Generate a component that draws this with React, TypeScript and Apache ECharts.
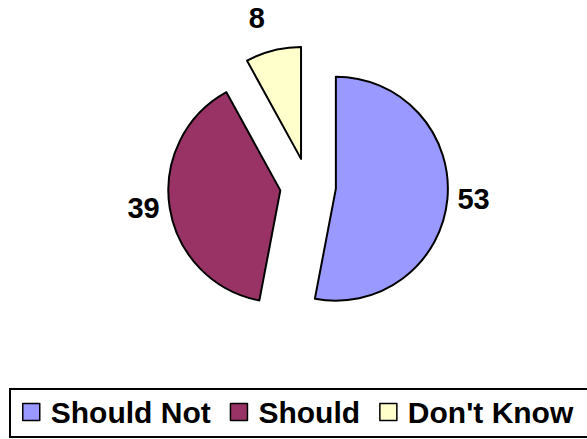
import React, { useEffect, useRef } from "react";
import * as echarts from "echarts";

const categories = ["Should Not", "Should", "Don't Know"];
const values = [53, 39, 8];

const sliceColors = ["#9999FF", "#993366", "#FFFFCC"];
const FONT = 'Arial, "Liberation Sans", Helvetica, sans-serif';

export default function App() {
  const ref = useRef<HTMLDivElement>(null);

  useEffect(() => {
    if (!ref.current) return;
    const chart = echarts.init(ref.current, null, { renderer: "svg" });
    const data = categories.map((name, i) => {
      const item: any = {
        name,
        value: values[i],
        selected: true,
        itemStyle: { color: sliceColors[i] },
      };
      if (i === 2) {
        item.labelLine = { show: false, length: 33, length2: 0 };
        item.label = { distanceToLabelLine: 0 };
      }
      return item;
    });
    chart.setOption({
      animation: false,
      backgroundColor: "#ffffff",
      legend: {
        data: categories,
        left: 22,
        top: 397,
        padding: 0,
        itemWidth: 17,
        itemHeight: 17,
        itemGap: 19,
        icon: "rect",
        itemStyle: { borderColor: "#000", borderWidth: 1.5 },
        textStyle: {
          fontFamily: FONT,
          fontSize: 30,
          fontWeight: "bold",
          color: "#000",
          lineHeight: 30,
          padding: [0, 0, 0, 6],
        },
      },
      graphic: [
        {
          type: "rect",
          shape: { x: 10, y: 389, width: 600, height: 48 },
          style: { fill: "none", stroke: "#000", lineWidth: 2 },
          silent: true,
        },
      ],
      series: [
        {
          type: "pie",
          center: [308, 186],
          radius: 112,
          startAngle: 90,
          clockwise: true,
          selectedMode: "multiple",
          selectedOffset: 28,
          avoidLabelOverlap: false,
          emphasis: { disabled: true },
          itemStyle: { borderColor: "#000", borderWidth: 2 },
          label: {
            show: true,
            position: "outside",
            formatter: "{c}",
            fontFamily: FONT,
            fontSize: 29,
            fontWeight: "bold",
            color: "#000",
            distanceToLabelLine: 5,
          },
          labelLine: { show: false, length: 0, length2: 5 },
          data,
        },
      ],
    });
    return () => chart.dispose();
  }, []);

  return (
    <div
      ref={ref}
      style={{ position: "absolute", left: 0, top: 0, width: 587, height: 439 }}
    />
  );
}
